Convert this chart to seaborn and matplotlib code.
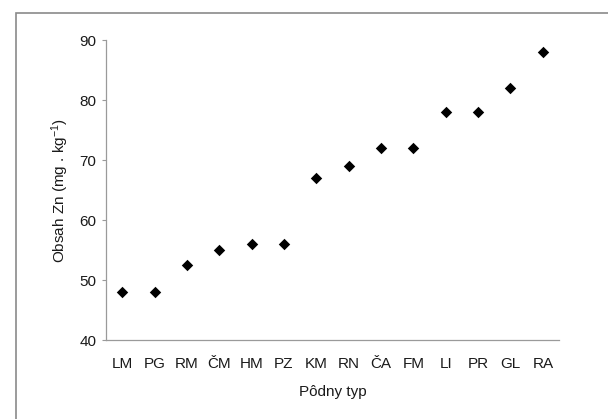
import matplotlib
matplotlib.use("Agg")
import matplotlib.pyplot as plt
import seaborn as sns
import pandas as pd
from matplotlib.patches import Rectangle
from matplotlib.ticker import FixedLocator

categories = ["LM", "PG", "RM", "ČM", "HM", "PZ", "KM", "RN", "ČA", "FM", "LI", "PR", "GL", "RA"]
zn_values = [48, 48, 52.5, 55, 56, 56, 67, 69, 72, 72, 78, 78, 82, 88]
y_ticks = [40, 50, 60, 70, 80, 90]

sns.set_style("white")
plt.rcParams["font.family"] = ["Liberation Sans", "DejaVu Sans"]
plt.rcParams["mathtext.default"] = "regular"

df = pd.DataFrame({"typ": categories, "zn": zn_values})
df["pos"] = range(len(categories))

fig = plt.figure(figsize=(6.08, 4.19), dpi=100)
fig.patch.set_facecolor("white")
# outer frame (cropped at right and bottom)
fig.patches.append(Rectangle((16 / 608, -0.1), 1.2, 1 - 13.5 / 419 + 0.1,
                             transform=fig.transFigure, fill=False,
                             edgecolor="#8a8a8a", linewidth=1.2))

ax = fig.add_axes([106 / 608, 1 - 340 / 419, (559 - 106) / 608, (340 - 40) / 419])
sns.scatterplot(data=df, x="pos", y="zn", marker="D", s=34, color="black",
                edgecolor="black", linewidth=0, ax=ax, legend=False)

ax.set_xlim(-0.5, len(categories) - 0.5)
ax.set_ylim(40, 90)
ax.set_yticks(y_ticks)
ax.set_xticks(range(len(categories)))
ax.set_xticklabels(categories)
ax.xaxis.set_minor_locator(FixedLocator([i - 0.5 for i in range(len(categories) + 1)]))

for side in ["top", "right"]:
    ax.spines[side].set_visible(False)
for side in ["left", "bottom"]:
    ax.spines[side].set_color("#9a9a9a")
    ax.spines[side].set_linewidth(0.9)

ax.tick_params(axis="x", which="major", length=0, pad=12, labelsize=11, labelcolor="#1a1a1a")
ax.tick_params(axis="x", which="minor", length=3, width=0.8, color="#9a9a9a", direction="in")
ax.tick_params(axis="y", which="major", length=3, width=0.8, color="#9a9a9a", direction="out",
               pad=4, labelsize=11, labelcolor="#1a1a1a", left=True)

ax.set_xlabel("Pôdny typ", fontsize=11, color="#1a1a1a", labelpad=10)
ax.set_ylabel("Obsah Zn (mg . kg$^{-1}$)", fontsize=11, color="#1a1a1a", labelpad=6)

fig.savefig("out.png", dpi=100)
